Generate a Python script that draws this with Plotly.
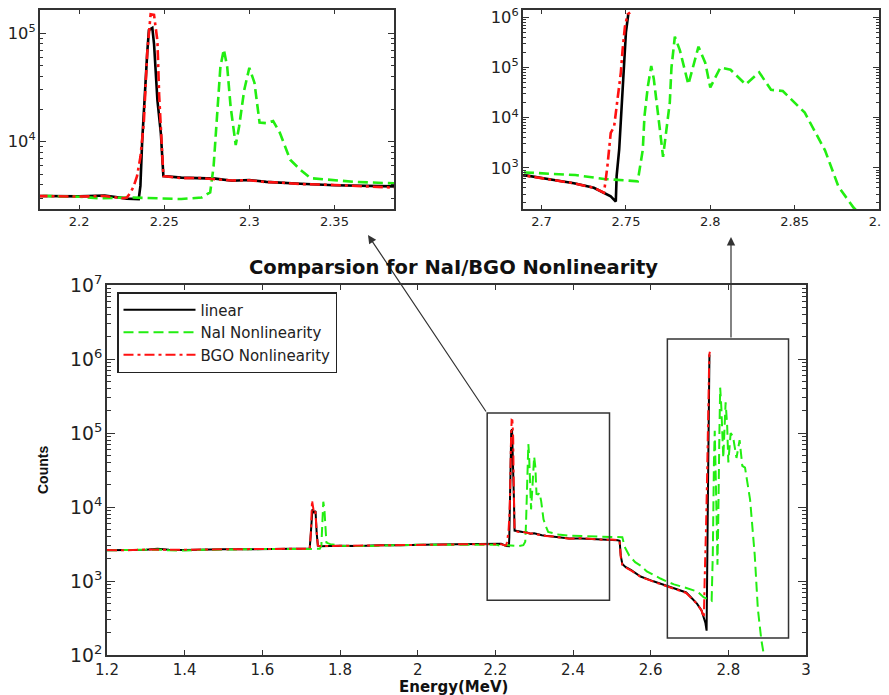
import plotly.graph_objects as go

# ---------------- data ----------------
energy_linear = [1.20, 1.25, 1.30, 1.33, 1.36, 1.40, 1.45, 1.50, 1.55, 1.60, 1.65, 1.70,
                 1.722, 1.725, 1.729, 1.733, 1.737, 1.740, 1.743, 1.75, 1.80, 1.85, 1.90,
                 1.95, 2.00, 2.05, 2.10, 2.15, 2.18, 2.20, 2.215, 2.228, 2.235, 2.236,
                 2.237, 2.240, 2.241, 2.243, 2.244, 2.246, 2.248, 2.2495, 2.26, 2.27, 2.28,
                 2.29, 2.30, 2.31, 2.32, 2.33, 2.35, 2.37, 2.39, 2.42, 2.45, 2.48, 2.50,
                 2.515, 2.52, 2.523, 2.527, 2.535, 2.55, 2.574, 2.607, 2.63, 2.659, 2.6915,
                 2.7073, 2.7192, 2.731, 2.741, 2.744, 2.7445, 2.746, 2.747, 2.748, 2.749,
                 2.750, 2.7514]
counts_linear = [2600, 2620, 2640, 2720, 2650, 2630, 2680, 2690, 2680, 2700, 2760, 2720,
                 2740, 4500, 9300, 8500, 8800, 4400, 3000, 2950, 3000, 2980, 3050,
                 3030, 3100, 3120, 3130, 3160, 3150, 3120, 3180, 2980, 2950, 3900,
                 9800, 66000, 107000, 112000, 80000, 24000, 12000, 4800, 4650, 4600, 4550,
                 4350, 4420, 4250, 4150, 4080, 3960, 3860, 3750, 3760, 3700, 3620, 3650,
                 3560, 3500, 2200, 1700, 1550, 1400, 1150, 990, 900, 800, 700,
                 575, 495, 400, 270, 213, 690, 2300, 8000, 27000, 107000,
                 500000, 1150000]

energy_nai = [1.20, 1.25, 1.30, 1.33, 1.36, 1.40, 1.45, 1.50, 1.55, 1.60, 1.65, 1.70,
              1.748, 1.752, 1.754, 1.757, 1.760, 1.762, 1.765, 1.775, 1.80, 1.85, 1.90,
              1.95, 2.00, 2.05, 2.10, 2.15, 2.18, 2.20, 2.212, 2.23, 2.25, 2.26, 2.272,
              2.277, 2.279, 2.281, 2.283, 2.285, 2.287, 2.289, 2.292, 2.294, 2.297, 2.300,
              2.303, 2.306, 2.310, 2.314, 2.318, 2.324, 2.330, 2.336, 2.348, 2.362, 2.388,
              2.42, 2.45, 2.48, 2.50, 2.52, 2.527, 2.533, 2.545, 2.56, 2.575, 2.59, 2.607,
              2.625, 2.643, 2.66, 2.69, 2.72, 2.737, 2.757, 2.760, 2.761, 2.763, 2.765,
              2.7665, 2.768, 2.770, 2.772, 2.774, 2.776, 2.777, 2.779, 2.782, 2.787, 2.793,
              2.797, 2.800, 2.806, 2.812, 2.821, 2.829, 2.836, 2.843, 2.856, 2.868, 2.876,
              2.885, 2.893]
counts_nai = [2600, 2610, 2630, 2660, 2600, 2580, 2640, 2680, 2670, 2700, 2700, 2710,
              2720, 3000, 5000, 11800, 9000, 5000, 3300, 3150, 3000, 2960, 3030,
              3040, 3090, 3100, 3120, 3140, 3150, 3100, 3000, 3050, 3000, 2950, 3050,
              3400, 5900, 17000, 49000, 71000, 49000, 21000, 9300, 13800, 30000, 48000,
              35000, 15000, 14800, 15500, 12000, 6800, 5500, 4600, 4450, 4250, 4100,
              4050, 4020, 4000, 4000, 3950, 3900, 2900, 2200, 1800, 1600, 1350, 1200,
              1080, 980, 900, 810, 720, 600, 540, 2300, 10700, 42000, 107000,
              60000, 20000, 6300, 1660, 6300, 20000, 100000, 410000, 220000, 46000, 260000,
              125000, 40000, 100000, 90000, 46000, 80000, 36000, 34000, 12600, 2240, 420,
              160, 90]

energy_bgo = [1.20, 1.25, 1.30, 1.33, 1.36, 1.40, 1.45, 1.50, 1.55, 1.60, 1.65, 1.70,
              1.722, 1.725, 1.728, 1.732, 1.736, 1.740, 1.743, 1.75, 1.80, 1.85, 1.90,
              1.95, 2.00, 2.05, 2.10, 2.15, 2.18, 2.20, 2.215, 2.226, 2.228, 2.230, 2.232,
              2.234, 2.236, 2.238, 2.240, 2.242, 2.244, 2.246, 2.247, 2.248, 2.2495, 2.26,
              2.27, 2.28, 2.29, 2.30, 2.31, 2.32, 2.33, 2.35, 2.37, 2.39, 2.42, 2.45, 2.48,
              2.50, 2.515, 2.52, 2.523, 2.527, 2.535, 2.55, 2.574, 2.607, 2.63, 2.659,
              2.6915, 2.7073, 2.7192, 2.731, 2.735, 2.737, 2.739, 2.741, 2.743, 2.745,
              2.747, 2.748, 2.7494, 2.751, 2.7525]
counts_bgo = [2620, 2600, 2660, 2680, 2640, 2650, 2670, 2700, 2700, 2690, 2720, 2730,
              2740, 4500, 12300, 9000, 9500, 4600, 3000, 2960, 2990, 3000, 3040,
              3050, 3080, 3110, 3140, 3150, 3140, 3110, 3150, 3000, 3050, 3350, 3850,
              4800, 7200, 15000, 66000, 150000, 148000, 85000, 27000, 12000, 4800, 4600,
              4620, 4500, 4380, 4400, 4230, 4170, 4060, 3980, 3840, 3730, 3780, 3680, 3600,
              3630, 3580, 3480, 2100, 1650, 1530, 1380, 1140, 980, 890, 790,
              690, 570, 490, 400, 350, 320, 1050, 5000, 6600, 22000,
              80000, 220000, 650000, 1150000, 1250000]

series_names = ["linear", "NaI Nonlinearity", "BGO Nonlinearity"]
main_x_range = [1.2, 3.0]
main_y_decades = [2, 7]
inset1_x_range = [2.177, 2.385]
inset1_y_log_range = [3.378, 5.215]
inset2_x_range = [2.689, 2.9]
inset2_y_log_range = [2.18, 6.146]
zoom_box1 = [2.179, 2.494, 550, 186000]
zoom_box2 = [2.643, 2.955, 170, 1860000]

W, H = 889, 695
OFF = 8  # the page body margin shifts the figure by 8 px
FONT = "DejaVu Sans, sans-serif"
FONT_N = "Liberation Sans, Arial, sans-serif"
AXC = "#333333"

def px_x(p):
    return min(1.0, max(0.0, (p - OFF) / W))

def px_y(p):
    return min(1.0, max(0.0, 1 - (p - OFF) / H))

series = [
    (series_names[0], energy_linear, counts_linear, "#000000", "solid"),
    (series_names[1], energy_nai, counts_nai, "#22ee11", "10px,5px"),
    (series_names[2], energy_bgo, counts_bgo, "#ff1111", "10px,4px,3px,4px"),
]

fig = go.Figure()
for axes, lw, show in [(("x", "y"), 2, True), (("x2", "y2"), 2.6, False), (("x3", "y3"), 2.6, False)]:
    for name, xs, ys, col, dash in series:
        fig.add_trace(go.Scatter(
            x=xs, y=ys, name=name, mode="lines",
            line=dict(color=col, width=lw, dash=dash),
            xaxis=axes[0], yaxis=axes[1], showlegend=show,
        ))

frame = dict(showline=True, linecolor=AXC, linewidth=1.5, mirror="allticks",
             ticks="inside", tickcolor=AXC, showgrid=False, zeroline=False,
             automargin=False, ticklabeloverflow="allow",
             tickfont=dict(family=FONT, size=15, color="#222"))
small = dict(family=FONT, size=13, color="#222")

fig.update_layout(
    width=W, height=H, margin=dict(l=0, r=0, t=0, b=0, autoexpand=False),
    paper_bgcolor="white", plot_bgcolor="white",
    xaxis=dict(frame, domain=[px_x(107), px_x(806)], range=main_x_range, dtick=0.2,
               tick0=1.2, ticklen=5, anchor="y"),
    yaxis=dict(frame, domain=[px_y(655), px_y(285)], type="log", range=main_y_decades,
               dtick=1, exponentformat="power", ticklen=8, anchor="x",
               minor=dict(ticks="inside", ticklen=4, dtick="D1", tickcolor=AXC, showgrid=False)),
    xaxis2=dict(frame, domain=[px_x(40), px_x(394)], range=inset1_x_range, dtick=0.05,
                tick0=2.2, ticklen=4, anchor="y2", tickfont=small),
    yaxis2=dict(frame, domain=[px_y(209), px_y(10)], type="log", range=inset1_y_log_range,
                dtick=1, exponentformat="power", ticklen=6, anchor="x2", tickfont=small,
                minor=dict(ticks="inside", ticklen=3, dtick="D1", tickcolor=AXC, showgrid=False)),
    xaxis3=dict(frame, domain=[px_x(523), px_x(879)], range=inset2_x_range, dtick=0.05,
                tick0=2.7, ticklen=4, anchor="y3", tickfont=small),
    yaxis3=dict(frame, domain=[px_y(209), px_y(10)], type="log", range=inset2_y_log_range,
                dtick=1, exponentformat="power", ticklen=6, anchor="x3", tickfont=small,
                minor=dict(ticks="inside", ticklen=3, dtick="D1", tickcolor=AXC, showgrid=False)),
    legend=dict(x=px_x(117), y=px_y(292), xanchor="left", yanchor="top",
                bgcolor="white", bordercolor="#222", borderwidth=1.5,
                font=dict(family=FONT, size=15, color="#222"), itemwidth=72,
                tracegroupgap=0),
    showlegend=True,
)

# zoom boxes on the main plot
for bx in (zoom_box1, zoom_box2):
    fig.add_shape(type="rect", xref="x", yref="y", x0=bx[0], x1=bx[1], y0=bx[2], y1=bx[3],
                  line=dict(color=AXC, width=1.5), fillcolor="rgba(0,0,0,0)")

# arrows from boxes to insets
fig.add_annotation(x=px_x(368), y=px_y(235), xref="paper", yref="paper", text="",
                   showarrow=True, ax=487 - 368, ay=413 - 235, arrowhead=2, arrowsize=1.4,
                   arrowwidth=1.2, arrowcolor=AXC)
fig.add_annotation(x=px_x(731), y=px_y(237), xref="paper", yref="paper", text="",
                   showarrow=True, ax=0, ay=339 - 237, arrowhead=2, arrowsize=1.4,
                   arrowwidth=1.2, arrowcolor=AXC)

# titles
fig.add_annotation(x=px_x(453), y=px_y(267), xref="paper", yref="paper", showarrow=False,
                   xanchor="center", yanchor="middle",
                   text="<b>Comparsion for NaI/BGO Nonlinearity</b>",
                   font=dict(family=FONT, size=19.5, color="#111"))
fig.add_annotation(x=px_x(453), y=px_y(687), xref="paper", yref="paper", showarrow=False,
                   xanchor="center", yanchor="middle",
                   text="<b>Energy(MeV)</b>", font=dict(family=FONT, size=15, color="#111"))
fig.add_annotation(x=px_x(43), y=px_y(470), xref="paper", yref="paper", showarrow=False,
                   xanchor="center", yanchor="middle",
                   text="<b>Counts</b>", textangle=-90,
                   font=dict(family=FONT_N, size=14, color="#111"))

fig.write_html("out.html")
